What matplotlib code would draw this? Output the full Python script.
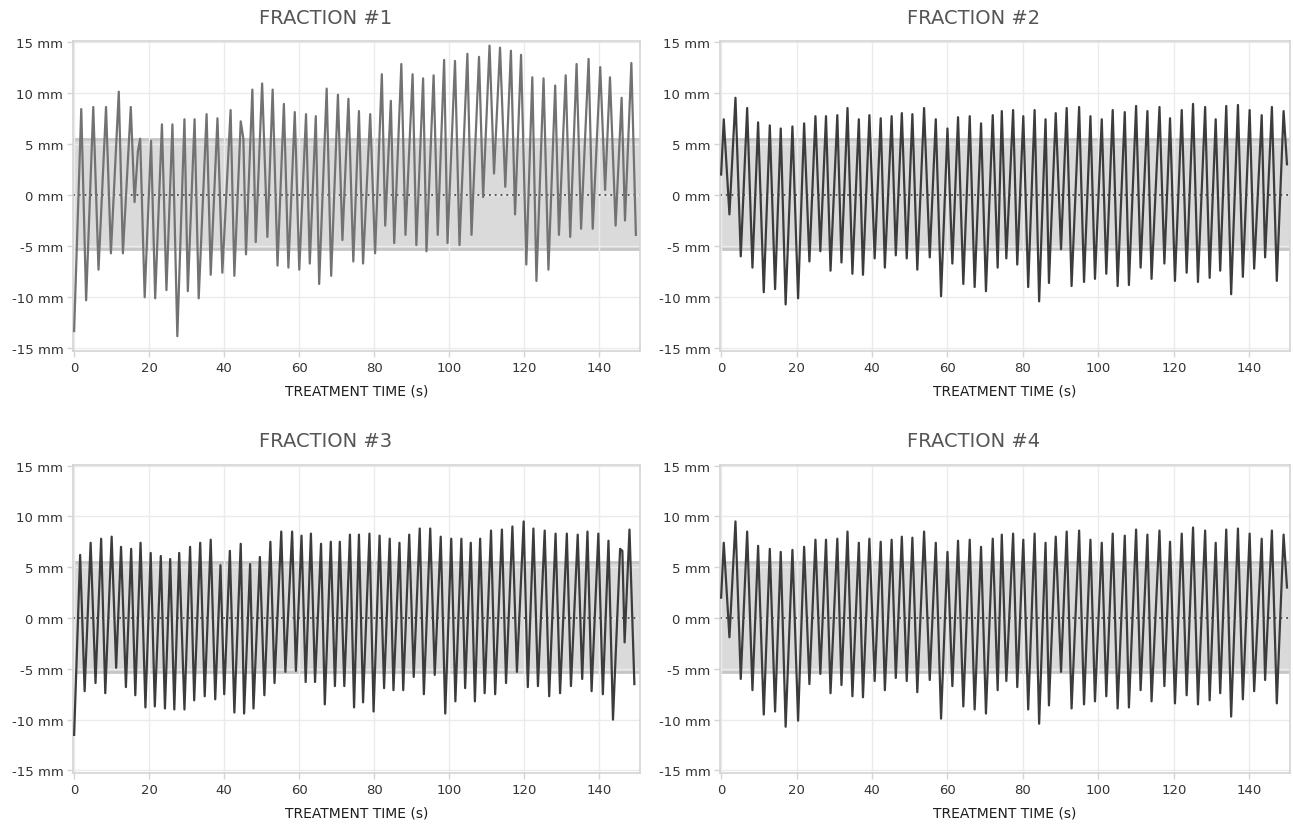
import numpy as np
import matplotlib
matplotlib.use('Agg')
import matplotlib.pyplot as plt

# peaks / troughs (time in s, displacement in mm)
f1_t = [0, 1.9, 3.2, 5.1, 6.5, 8.5, 9.8, 11.9, 13.0, 15.1, 16.1, 17.0, 17.6, 18.8,
        20.5, 21.6, 23.4, 24.6, 26.2, 27.5, 29.4, 30.3, 32.1, 33.2, 35.3, 36.4,
        38.2, 39.5, 41.7, 42.7, 44.4, 45.1, 45.8, 47.5, 48.4, 50.1, 51.5, 52.9,
        54.2, 55.9, 57.1, 58.8, 60.0, 61.8, 62.8, 64.4, 65.3, 67.3, 68.5, 70.3,
        71.5, 73.1, 74.4, 75.9, 77.0, 78.9, 80.2, 82.0, 82.9, 84.4, 85.3, 87.2,
        88.3, 90.2, 91.2, 93.0, 93.9, 95.8, 96.9, 98.6, 99.5, 101.5, 102.7,
        104.8, 105.9, 107.9, 109.0, 110.7, 111.9, 113.5, 114.9, 116.4, 117.5,
        119.1, 120.5, 122.1, 123.2, 125.1, 126.4, 128.2, 129.2, 131.0, 132.2,
        133.9, 135.1, 137.1, 138.2, 140.2, 141.5, 142.8, 144.3, 145.9, 146.8,
        148.5, 149.7]
f1_mm = [-13.3, 8.4, -10.3, 8.6, -7.3, 8.6, -5.7, 10.1, -5.7, 8.6, -0.7, 4.3, 5.5, -10.0,
         5.3, -10.1, 6.9, -9.3, 6.9, -13.8, 7.4, -9.4, 7.4, -10.1, 7.9, -7.8,
         7.5, -7.6, 8.3, -7.9, 7.2, 5.5, -5.8, 10.3, -4.6, 10.9, -4.1, 10.3,
         -6.9, 8.9, -7.1, 8.1, -7.3, 7.9, -6.7, 7.7, -8.7, 10.4, -7.9, 9.8,
         -4.4, 9.4, -6.5, 8.2, -6.7, 7.9, -5.7, 11.8, -3.0, 9.2, -4.7, 12.8,
         -3.9, 11.8, -4.9, 11.4, -5.5, 11.7, -3.9, 13.2, -4.7, 13.1, -4.9,
         13.8, -3.9, 13.5, -0.2, 14.6, 2.1, 14.4, 0.8, 14.1, -1.9,
         13.7, -6.8, 11.5, -8.4, 11.4, -7.3, 10.7, -3.9, 11.7, -4.1,
         12.8, -3.3, 13.3, -3.3, 12.5, 0.5, 11.5, -3.0, 9.5, -2.5,
         12.9, -3.9]

f2_t = [0, 0.7, 2.2, 3.8, 5.2, 6.9, 8.3, 9.8, 11.3, 12.9, 14.3, 15.8, 17.1, 18.9,
        20.4, 22.0, 23.4, 25.0, 26.3, 27.8, 29.0, 30.8, 31.9, 33.5, 34.8, 36.5,
        37.6, 39.3, 40.7, 42.3, 43.4, 45.2, 46.3, 47.9, 49.2, 50.7, 52.0, 53.8,
        55.3, 56.9, 58.3, 60.0, 61.3, 62.8, 64.2, 65.9, 67.2, 68.9, 70.2, 72.0,
        73.3, 74.4, 75.6, 77.4, 78.5, 80.1, 81.4, 83.1, 84.3, 86.0, 86.9, 88.7,
        90.1, 91.6, 92.9, 94.9, 96.2, 97.9, 99.1, 100.9, 102.1, 103.8, 105.1,
        107.0, 108.1, 110.0, 111.2, 113.0, 114.1, 116.2, 117.5, 119.0, 120.3,
        122.1, 123.4, 125.1, 126.4, 128.3, 129.5, 131.1, 132.3, 133.9, 135.2,
        137.0, 138.3, 140.1, 141.3, 143.3, 144.2, 146.0, 147.3, 149.1, 150.0]
f2_mm = [2.0, 7.4, -1.9, 9.5, -6.0, 8.5, -7.1, 7.1, -9.5, 6.8, -9.2, 6.5, -10.7, 6.7,
         -10.1, 7.0, -6.5, 7.7, -5.5, 7.7, -7.4, 7.8, -6.6, 8.5, -7.7, 7.4,
         -7.8, 7.8, -6.2, 7.5, -7.1, 7.7, -5.9, 8.0, -6.2, 7.9, -7.3, 8.5,
         -6.1, 7.4, -9.9, 6.5, -6.7, 7.6, -8.7, 7.7, -9.0, 7.0, -9.4, 7.8,
         -7.1, 8.2, -6.2, 8.3, -6.8, 7.7, -9.0, 8.3, -10.4, 7.4, -8.6, 8.0,
         -5.3, 8.5, -8.9, 8.6, -8.5, 7.7, -8.2, 7.4, -7.7, 8.3, -8.9,
         8.1, -8.8, 8.7, -7.1, 8.2, -8.2, 8.6, -6.7, 7.5, -8.4,
         8.3, -7.6, 8.9, -8.5, 8.6, -8.1, 7.4, -7.4, 8.7, -9.7,
         8.8, -8.0, 8.3, -7.2, 7.8, -6.1, 8.6, -8.4, 8.2, 3.0]

f3_t = [0, 1.6, 2.8, 4.4, 5.7, 7.2, 8.3, 10.0, 11.2, 12.5, 13.8, 15.2, 16.3, 17.7,
        19.0, 20.4, 21.5, 23.1, 24.2, 25.6, 26.7, 28.0, 29.4, 30.9, 32.0, 33.6,
        34.8, 36.4, 37.6, 39.0, 40.0, 41.5, 42.7, 44.4, 45.3, 46.9, 47.8, 49.5,
        50.7, 52.3, 53.4, 55.2, 56.3, 58.1, 59.1, 60.6, 61.7, 63.1, 64.2, 65.8,
        66.8, 68.4, 69.5, 70.8, 72.0, 73.5, 74.6, 75.9, 77.0, 78.7, 79.8, 81.4,
        82.6, 84.1, 85.1, 86.7, 87.7, 89.3, 90.5, 92.1, 93.2, 94.9, 96.1, 97.7,
        98.9, 100.5, 101.6, 103.2, 104.2, 105.7, 106.8, 108.2, 109.4, 111.1,
        112.2, 114.0, 115.1, 116.8, 118.0, 119.8, 120.9, 122.4, 123.6, 125.4,
        126.6, 128.3, 129.5, 131.3, 132.4, 134.2, 135.4, 136.8, 137.9, 139.7,
        140.9, 142.4, 143.6, 145.5, 146.1, 146.7, 148.0, 149.3]
f3_mm = [-11.5, 6.2, -7.2, 7.4, -6.4, 7.8, -7.4, 8.0, -4.9, 7.0, -6.8, 6.8, -7.6, 7.4,
         -8.8, 6.4, -8.7, 6.1, -8.9, 5.8, -9.0, 6.4, -9.0, 7.0, -8.1, 7.4,
         -7.7, 7.7, -8.0, 5.2, -7.5, 6.6, -9.3, 7.3, -9.4, 5.3, -8.9, 6.0,
         -7.6, 7.5, -6.4, 8.5, -5.3, 8.5, -5.2, 8.1, -6.3, 8.3, -6.3, 7.3,
         -8.5, 7.5, -6.7, 7.5, -6.7, 8.2, -8.8, 8.2, -8.3, 8.3, -9.2, 8.1,
         -6.9, 7.8, -7.1, 7.4, -7.1, 8.2, -5.8, 8.8, -7.5, 8.8, -5.6, 8.0,
         -9.4, 7.8, -8.2, 7.8, -6.9, 7.4, -8.2, 7.8, -7.4, 8.6,
         -7.5, 8.7, -6.4, 9.0, -5.3, 9.5, -6.8, 8.8, -6.7, 8.6,
         -7.7, 8.3, -7.4, 8.3, -6.7, 8.2, -6.0, 8.5, -7.2, 8.3,
         -7.5, 7.6, -10.0, 6.8, 6.6, -2.4, 8.7, -6.5]

# fraction 4 shows the same trace as fraction 2
f4_t = f2_t
f4_mm = f2_mm

titles = ['FRACTION #1', 'FRACTION #2', 'FRACTION #3', 'FRACTION #4']
line_colors = ['#727272', '#3c3c3c', '#3c3c3c', '#3c3c3c']
band = (-5.3, 5.5)
yticks = [-15, -10, -5, 0, 5, 10, 15]
xticks = [0, 20, 40, 60, 80, 100, 120, 140]

plt.rcParams['font.family'] = ['DejaVu Sans']

fig = plt.figure(figsize=(12.93, 8.29), dpi=100)
W, H = 1293., 829.
boxes = [(73, 42, 640, 352), (720, 42, 1290, 352),
         (73, 466, 640, 774), (720, 466, 1290, 774)]
# title centres (pixels) - centred on each half of the figure, not on the axes
title_xy = [(326, 18), (974, 18), (326, 442), (974, 442)]
series = [(f1_t, f1_mm), (f2_t, f2_mm), (f3_t, f3_mm), (f4_t, f4_mm)]

for i, (x0, y0, x1, y1) in enumerate(boxes):
    ax = fig.add_axes([x0 / W, 1 - y1 / H, (x1 - x0) / W, (y1 - y0) / H])
    t, mm = series[i]
    ax.axhspan(band[0], band[1], color='#dadada', lw=0, zorder=1)
    ax.axhline(band[0], color='#c6c6c6', lw=2, zorder=1.1)
    ax.axhline(band[1], color='#c6c6c6', lw=2, zorder=1.1)
    ax.axhline(0, color='#4a4a4a', lw=1.3, ls=(0, (1, 2.2)), zorder=1.8)
    ax.plot(t, mm, color=line_colors[i], lw=1.6, zorder=3)
    ax.set_xlim(-0.3, 150.8)
    ax.set_ylim(-15.25, 15.05)
    ax.set_xticks(xticks)
    ax.set_yticks(yticks)
    ax.set_yticklabels(['%d mm' % v for v in yticks])
    ax.grid(True, color='#ebebeb', lw=1)
    ax.set_axisbelow('line')
    for s in ax.spines.values():
        s.set_color('#d4d4d4')
        s.set_linewidth(1.2)
    ax.tick_params(length=4, width=1, color='#d4d4d4', labelsize=9.5,
                   labelcolor='#333333', pad=3)
    ax.set_xlabel('TREATMENT TIME (s)', fontsize=10, color='#1e1e1e', labelpad=7)
    tx, ty = title_xy[i]
    fig.text(tx / W, 1 - ty / H, titles[i], fontsize=14, color='#555555',
             ha='center', va='center')

fig.savefig('out.png', dpi=100)
